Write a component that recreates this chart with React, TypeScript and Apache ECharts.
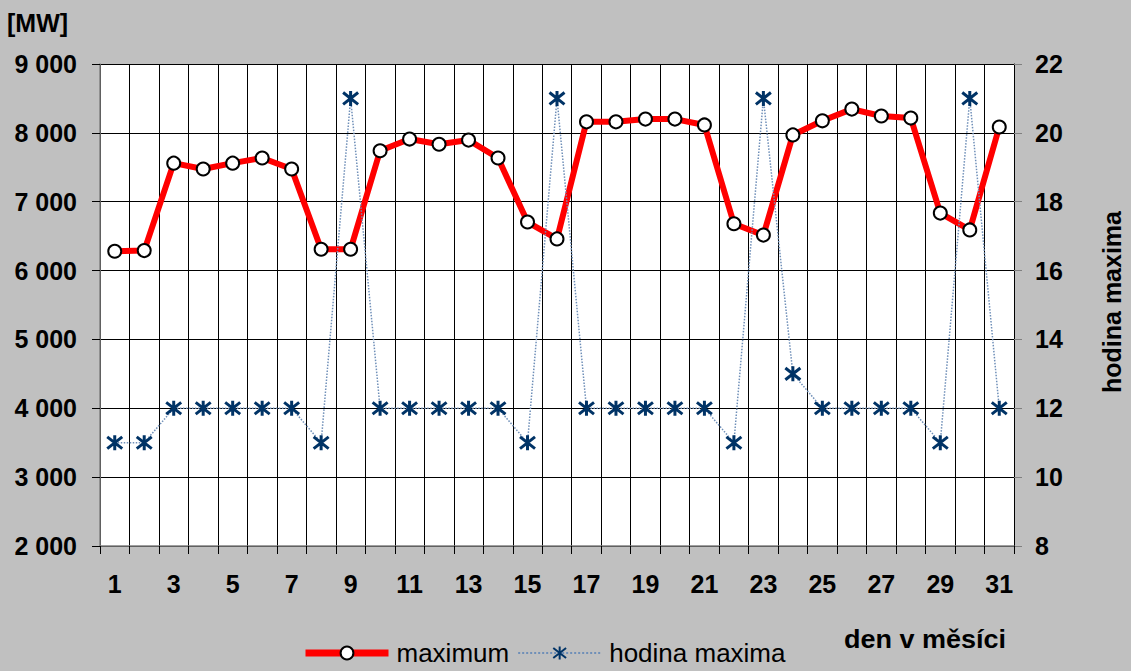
import React, { useEffect, useRef } from "react";
import * as echarts from "echarts";

const days = Array.from({ length: 31 }, (_, i) => String(i + 1));
const maximumMW = [
  6280, 6290, 7560, 7475, 7560, 7635, 7475, 6310, 6310, 7740, 7910, 7835, 7895, 7635, 6705, 6460,
  8160, 8160, 8200, 8200, 8115, 6680, 6515, 7970, 8175, 8345, 8245, 8215, 6835, 6590, 8085,
];
const hodinaMaxima = [
  11, 11, 12, 12, 12, 12, 12, 11, 21, 12, 12, 12, 12, 12, 11, 21, 12, 12, 12, 12, 12, 11, 21, 13, 12,
  12, 12, 12, 11, 21, 12,
];

const asterisk = "path://M7,0 L7,14 M1,1.5 L13,12.5 M1,12.5 L13,1.5";

export default function App() {
  const ref = useRef<HTMLDivElement>(null);
  useEffect(() => {
    const chart = echarts.init(ref.current!, null, { renderer: "svg" });
    const font = "Arial, 'Liberation Sans', sans-serif";
    chart.setOption({
      animation: false,
      backgroundColor: "#c0c0c0",
      textStyle: { fontFamily: font },
      grid: {
        left: 100,
        right: 117,
        top: 64,
        bottom: 125,
        outerBoundsMode: "none",
        containLabel: false,
        show: true,
        backgroundColor: "#ffffff",
        borderWidth: 0,
      },
      graphic: [
        {
          type: "text",
          left: 7,
          top: 10,
          style: { text: "[MW]", font: `bold 25px ${font}`, fill: "#000" },
        },
        {
          type: "text",
          left: 844,
          top: 627,
          style: { text: "den v měsíci", font: `bold 25px ${font}`, fill: "#000" },
          scaleX: 1.08,
        },
        {
          type: "text",
          x: 1112,
          y: 302,
          rotation: Math.PI / 2,
          style: {
            text: "hodina maxima",
            font: `bold 25px ${font}`,
            fill: "#000",
            align: "center",
            verticalAlign: "middle",
          },
        },
      ],
      legend: {
        bottom: 0,
        left: 297,
        itemWidth: 83,
        itemHeight: 16,
        itemGap: 8,
        textStyle: { fontSize: 26, color: "#000", fontFamily: font, padding: [0, 0, 0, 3] },
        data: [
          { name: "maximum", lineStyle: { width: 7 } },
          { name: "hodina maxima" },
        ],
      },
      xAxis: {
        type: "category",
        data: days,
        boundaryGap: true,
        axisLine: { lineStyle: { color: "#808080", width: 1.5 } },
        axisTick: { show: true, interval: 0, length: 8, lineStyle: { color: "#000" } },
        axisLabel: {
          interval: 1,
          margin: 25,
          fontSize: 25,
          fontWeight: "bold",
          color: "#000",
          fontFamily: font,
        },
        splitLine: { show: true, interval: 0, lineStyle: { color: "#000", width: 1 } },
      },
      yAxis: [
        {
          type: "value",
          min: 2000,
          max: 9000,
          interval: 1000,
          position: "left",
          axisLine: { show: true, lineStyle: { color: "#808080", width: 1.5 } },
          axisTick: { show: true, length: 8, lineStyle: { color: "#000" } },
          axisLabel: {
            margin: 23,
            fontSize: 25,
            fontWeight: "bold",
            color: "#000",
            fontFamily: font,
            formatter: (v: number) => String(v).replace(/\B(?=(\d{3})+(?!\d))/g, " "),
          },
          splitLine: { show: true, lineStyle: { color: "#000", width: 1 } },
        },
        {
          type: "value",
          min: 8,
          max: 22,
          interval: 2,
          position: "right",
          axisLine: { show: true, lineStyle: { color: "#000", width: 1 } },
          axisTick: { show: true, length: 8, lineStyle: { color: "#808080" } },
          axisLabel: {
            margin: 21,
            fontSize: 25,
            fontWeight: "bold",
            color: "#000",
            fontFamily: font,
          },
          splitLine: { show: false },
        },
      ],
      series: [
        {
          name: "maximum",
          type: "line",
          yAxisIndex: 0,
          data: maximumMW,
          symbol: "circle",
          symbolSize: 13,
          lineStyle: { color: "#ff0000", width: 6 },
          itemStyle: { color: "#ffffff", borderColor: "#000000", borderWidth: 2 },
        },
        {
          name: "hodina maxima",
          type: "line",
          yAxisIndex: 1,
          data: hodinaMaxima,
          symbol: asterisk,
          symbolSize: 15,
          lineStyle: { color: "#6f8fb8", width: 1.5, type: "dotted" },
          itemStyle: { color: "#003366", borderColor: "#003366", borderWidth: 3 },
        },
      ],
    });
    return () => chart.dispose();
  }, []);
  return <div ref={ref} style={{ width: 1131, height: 671, position: "fixed", left: 0, top: 0 }} />;
}
